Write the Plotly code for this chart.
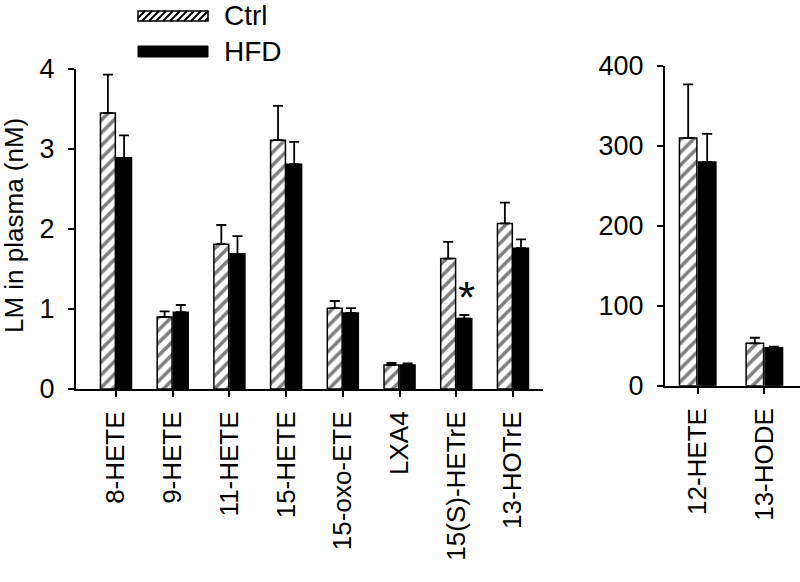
import plotly.graph_objects as go

# lipid mediators, nM scale (left panel)
left_names = ["8-HETE", "9-HETE", "11-HETE", "15-HETE", "15-oxo-ETE",
              "LXA4", "15(S)-HETrE", "13-HOTrE"]
left_ctrl = [3.45, 0.90, 1.81, 3.11, 1.01, 0.30, 1.63, 2.07]
left_ctrl_sem = [0.48, 0.07, 0.24, 0.43, 0.09, 0.025, 0.21, 0.26]
left_hfd = [2.89, 0.96, 1.69, 2.81, 0.95, 0.30, 0.88, 1.76]
left_hfd_sem = [0.28, 0.09, 0.22, 0.28, 0.06, 0.02, 0.045, 0.11]

# high-abundance mediators (right panel)
right_names = ["12-HETE", "13-HODE"]
right_ctrl = [310, 53]
right_ctrl_sem = [67, 7]
right_hfd = [280, 47.5]
right_hfd_sem = [35, 1.5]

W, H = 800, 582
FONT = "Liberation Sans, Arial, sans-serif"


def px(x):
    return x / W


def py(y):
    return 1 - y / H


def err(sem):
    return dict(type="data", array=sem, arrayminus=[0] * len(sem),
                symmetric=False, color="black", thickness=1.8, width=5)


hatch = dict(color="white", line=dict(color="black", width=1.5),
             pattern=dict(shape="/", fgcolor="black", bgcolor="white",
                          size=9, solidity=0.4))
solid = dict(color="black", line=dict(color="black", width=1.5))

fig = go.Figure()
fig.add_trace(go.Bar(x=left_names, y=left_ctrl, error_y=err(left_ctrl_sem),
                     marker=hatch, name="Ctrl", xaxis="x", yaxis="y"))
fig.add_trace(go.Bar(x=left_names, y=left_hfd, error_y=err(left_hfd_sem),
                     marker=solid, name="HFD", xaxis="x", yaxis="y"))
fig.add_trace(go.Bar(x=right_names, y=right_ctrl, error_y=err(right_ctrl_sem),
                     marker=hatch, name="Ctrl", xaxis="x2", yaxis="y2"))
fig.add_trace(go.Bar(x=right_names, y=right_hfd, error_y=err(right_hfd_sem),
                     marker=solid, name="HFD", xaxis="x2", yaxis="y2"))

axis_common = dict(showline=True, linecolor="black", linewidth=2,
                   ticks="outside", ticklen=6, tickwidth=2, tickcolor="black",
                   showgrid=False, zeroline=False, automargin=False,
                   tickfont=dict(family=FONT, size=27, color="black"))
xfont = dict(family=FONT, size=26, color="black")

fig.update_layout(
    width=W, height=H,
    margin=dict(l=0, r=0, t=0, b=0),
    paper_bgcolor="white", plot_bgcolor="white",
    showlegend=False,
    barmode="group", bargap=0.43, bargroupgap=0.08,
    xaxis=dict(axis_common, domain=[px(76), px(543)], range=[-0.705, 7.53],
               tickangle=-90, tickfont=xfont, ticklabelstandoff=4,
               anchor="y"),
    yaxis=dict(axis_common, domain=[py(389), py(69)], range=[0, 4],
               tickvals=[0, 1, 2, 3, 4], ticklabelstandoff=8, anchor="x"),
    xaxis2=dict(axis_common, domain=[px(665), 1.0], range=[-0.49, 1.535],
                tickangle=-90, tickfont=xfont, ticklabelstandoff=4,
                anchor="y2"),
    yaxis2=dict(axis_common, domain=[py(385.7), py(66)], range=[0, 400],
                tickvals=[0, 100, 200, 300, 400], ticklabelstandoff=8,
                anchor="x2"),
)

# y-axis title
fig.add_annotation(text="LM in plasma (nM)", xref="paper", yref="paper",
                   x=px(14), y=py(226), textangle=-90, showarrow=False,
                   xanchor="center", yanchor="middle",
                   font=dict(family=FONT, size=26, color="black"))

# significance mark
fig.add_annotation(text="*", xref="x", yref="y", x="15(S)-HETrE", y=1.15,
                   xshift=10, showarrow=False, yanchor="middle",
                   font=dict(family=FONT, size=44, color="black"))

# custom legend with long swatches
lx0, lx1 = 138, 208
cy0, cy1 = 11, 21
hy0, hy1 = 46, 57
fig.add_shape(type="rect", xref="paper", yref="paper",
              x0=px(lx0), x1=px(lx1), y0=py(cy1), y1=py(cy0),
              line=dict(color="black", width=1.5), fillcolor="white")
h = cy1 - cy0
segs = []
c = lx0 - h
while c < lx1:
    xa, ya = c, cy1
    xb, yb = c + h, cy0
    if xa < lx0:
        ya = cy1 - (lx0 - xa)
        xa = lx0
    if xb > lx1:
        yb = cy0 + (xb - lx1)
        xb = lx1
    if xb > xa:
        segs.append(f"M{px(xa)},{py(ya)} L{px(xb)},{py(yb)}")
    c += 7
fig.add_shape(type="path", xref="paper", yref="paper", path=" ".join(segs),
              line=dict(color="black", width=2))
fig.add_shape(type="rect", xref="paper", yref="paper",
              x0=px(lx0), x1=px(lx1), y0=py(hy1), y1=py(hy0),
              line=dict(color="black", width=1), fillcolor="black")
for label, yc in [("Ctrl", 15), ("HFD", 51)]:
    fig.add_annotation(text=label, xref="paper", yref="paper",
                       x=px(222), y=py(yc), showarrow=False,
                       xanchor="left", yanchor="middle",
                       font=dict(family=FONT, size=28, color="black"))

# drop the page's default body margin so the figure sits at 0,0
fig.write_html("out.html", config={"displayModeBar": False},
               post_script="document.body.style.margin='0';")
